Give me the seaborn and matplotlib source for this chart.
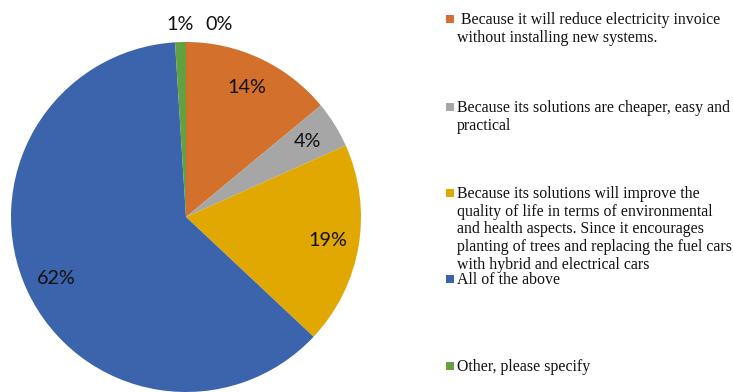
import numpy as np
import matplotlib
matplotlib.use("Agg")
import matplotlib.pyplot as plt
from matplotlib.patches import Rectangle
import seaborn as sns

# Survey answers and their shares (percent)
categories = [
    " Because it will reduce electricity invoice\nwithout installing new systems.",
    "Because its solutions are cheaper, easy and\npractical",
    "Because its solutions will improve the\nquality of life in terms of environmental\n"
    "and health aspects. Since it encourages\nplanting of trees and replacing the fuel cars\n"
    "with hybrid and electrical cars",
    "All of the above",
    "Other, please specify",
    "",
]
shares = [14.0, 4.3, 18.7, 62.0, 1.0, 0.0]
colors = ["#D2702C", "#A6A6A6", "#E0A800", "#3C64AC", "#64A040", "#9E480E"]

sns.set_theme(style="white")
palette = sns.color_palette(colors)

W, H = 733, 392
fig = plt.figure(figsize=(W / 100, H / 100), dpi=100)
fig.patch.set_facecolor("white")

# pie placed by pixel box: centre (186, 217), radius 175
cx, cy, r = 186, 217, 175
ax = fig.add_axes([(cx - r) / W, (H - cy - r) / H, 2 * r / W, 2 * r / H])

wedges, texts, autotexts = ax.pie(
    shares,
    colors=palette,
    startangle=90,
    counterclock=False,
    autopct=lambda p: f"{p:.0f}%",
    pctdistance=0.82,
    wedgeprops=dict(linewidth=0),
    textprops=dict(fontsize=14.2, family=["Lato", "DejaVu Sans"], color="#111111"),
)
ax.set_xlim(-1, 1)
ax.set_ylim(-1, 1)
ax.set_aspect("equal")
ax.axis("off")

# small slices get their labels pushed outside the rim, side by side
for w, t, v in zip(wedges, autotexts, shares):
    if v < 2:
        mid = np.deg2rad((w.theta1 + w.theta2) / 2)
        x = 1.1 * np.cos(mid)
        if v == 0:
            x += 0.19
        t.set_position((x, 1.1 * np.sin(mid)))
        t.set_ha("center")
        t.set_va("center")

# legend: square swatch plus wrapped text, entries on an even vertical pitch
first_line_y = [19, 107, 193, 279, 366]
sw = 8
for name, col, y in zip(categories[:5], palette[:5], first_line_y):
    fig.add_artist(Rectangle(((446) / W, (H - y - sw / 2) / H), sw / W, sw / H,
                             transform=fig.transFigure, facecolor=col, edgecolor="none"))
    fig.text(457 / W, (H - y + 7) / H, name, ha="left", va="top",
             fontsize=11.4, family="Liberation Serif", color="#111111",
             linespacing=1.14)

fig.savefig("out.png", dpi=100, facecolor="white")
